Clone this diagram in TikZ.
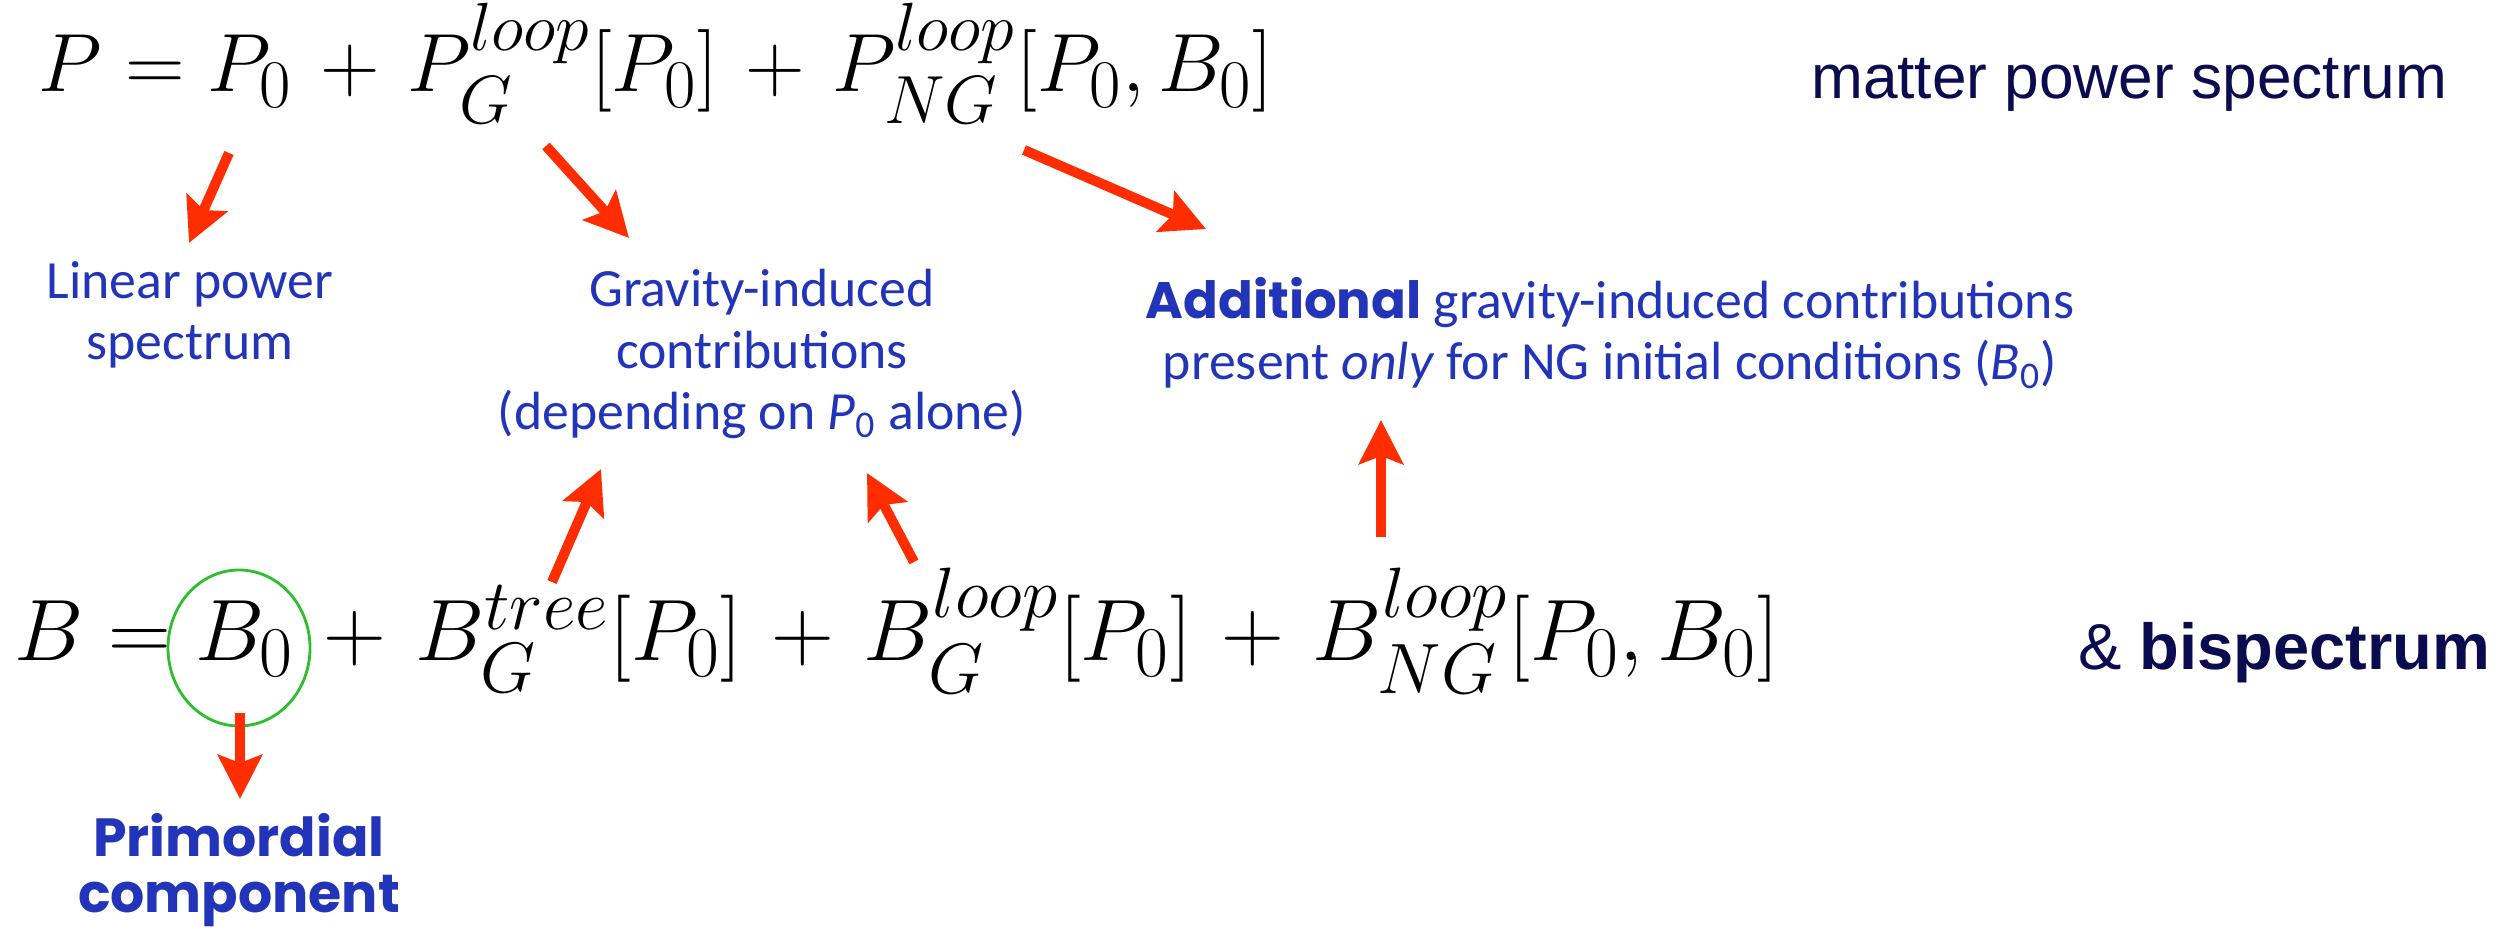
\documentclass[tikz,border=0pt]{standalone}
\usepackage{fix-cm}
\usepackage{amsmath,amssymb}
\usepackage[no-math]{fontspec}
\newfontfamily\gillfont{Carlito}
\newfontfamily\heavyfont{Poppins}
\newfontfamily\helvfont{Liberation Sans}
\usetikzlibrary{arrows.meta,shapes.geometric}
\DeclareMathSizes{23.5}{23.5}{19.4}{14.8}
\DeclareMathSizes{24.8}{24.8}{20.3}{15.2}
\medmuskip=6mu plus 2mu minus 4mu
\definecolor{ink}{HTML}{000000}
\definecolor{navy}{HTML}{0B0B4F}
\definecolor{labblue}{HTML}{2234B8}
\definecolor{redarr}{HTML}{FF2D00}
\definecolor{ringgreen}{HTML}{2DBE2D}
\tikzset{
  eqn/.style={inner sep=0pt, anchor=base west, text=ink, font=\fontsize{#1}{28}\selectfont},
  head/.style={inner sep=0pt, anchor=base east, text=navy, font=\helvfont\fontsize{#1}{20}\selectfont},
  lab/.style={inner sep=0pt, align=center, text=labblue, font=\gillfont\fontsize{15.3}{17.5}\selectfont},
  ring/.style={ellipse, draw=ringgreen, line width=0.8pt, inner sep=0pt},
  arr/.style={-{Stealth[length=4.4mm,width=4.4mm,inset=0.8mm]}, line width=2.85pt, draw=redarr},
}

\begin{document}
\begin{tikzpicture}
        \useasboundingbox (0,0) rectangle (25.01,9.30);
        % equations and headings
        \node[eqn=23.5] (peq) at (0.38,8.38) {$P = P_0 + P_G^{loop}[P_0] + P_{NG}^{loop}[P_0,B_0]$};
        \node[eqn=24.8] (beq) at (0.14,2.69) {$B = B_0 + B_G^{tree}[P_0] + B_G^{loop}[P_0] + B_{NG}^{loop}[P_0,B_0]$};
        \node[head=17.7] (mps) at (24.48,8.31) {matter power spectrum};
        \node[head=18.5] (bis) at (24.91,2.60) {\& \textbf{bispectrum}};
        \node[ring, minimum width=1.42cm, minimum height=1.56cm] (b0) at (2.39,2.82) {};
        % labels
        \node[lab] (lin) at (1.90,6.15) {Linear power\\spectrum};
        \node[lab] (grav) at (7.62,5.76) {Gravity-induced\\contributions\\(depending on \textit{P}\textsubscript{0} alone)};
        \node[lab] (addl) at (16.10,5.97) {{\heavyfont\bfseries\fontsize{14.6}{17.5}\selectfont Additional} gravity-induced contributions\\present \textit{only} for NG initial conditions (\textit{B}\textsubscript{0})};
        \node[lab, font=\heavyfont\bfseries\fontsize{15.3}{16}\selectfont] (prim) at (2.39,0.60) {Primordial\\component};
        % arrow ends
        \coordinate (p0) at (2.29,7.77);   \coordinate (p0tip) at (1.89,6.87);
        \coordinate (pg) at (5.46,7.84);   \coordinate (pgtip) at (6.29,6.92);
        \coordinate (png) at (10.24,7.80); \coordinate (pngtip) at (12.06,7.01);
        \coordinate (bt) at (5.52,3.48);   \coordinate (bttip) at (6.01,4.61);
        \coordinate (bl) at (9.14,3.68);   \coordinate (bltip) at (8.67,4.57);
        \coordinate (bng) at (13.81,3.93); \coordinate (bngtip) at (13.81,5.10);
        \coordinate (b0foot) at (2.40,2.17); \coordinate (primtip) at (2.40,1.31);
        \draw[arr] (p0) -- (p0tip);
        \draw[arr] (pg) -- (pgtip);
        \draw[arr] (png) -- (pngtip);
        \draw[arr] (bt) -- (bttip);
        \draw[arr] (bl) -- (bltip);
        \draw[arr] (bng) -- (bngtip);
        \draw[arr] (b0foot) -- (primtip);
      \end{tikzpicture}
\end{document}
